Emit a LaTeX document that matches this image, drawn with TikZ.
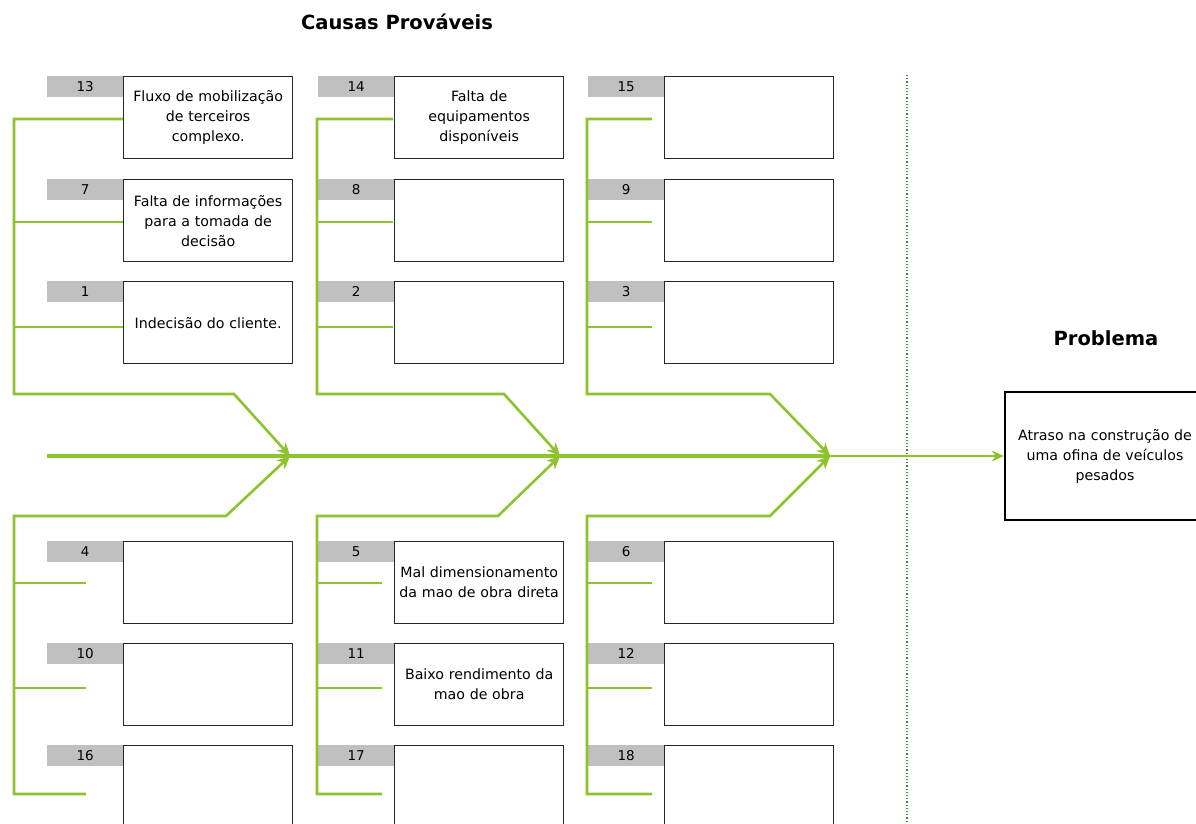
\documentclass[tikz,border=0pt]{standalone}
\usepackage{fontspec}
\setmainfont{DejaVu Sans}
\usetikzlibrary{arrows.meta}
\definecolor{fishgreen}{RGB}{141,196,45}
\definecolor{dotgreen}{RGB}{70,130,50}
\definecolor{labelgray}{RGB}{192,192,192}
\begin{document}
\begin{tikzpicture}[x=1pt,y=-1pt,
  causebox/.style={draw=black!85, line width=1.3pt, minimum width=169pt, minimum height=82pt,
    inner sep=0pt, anchor=north west, align=center, text width=166pt,
    font=\fontsize{14.2}{20}\selectfont},
  numlabel/.style={fill=labelgray, minimum width=76pt, minimum height=21pt, inner sep=0pt,
    anchor=north west, font=\fontsize{13.5}{14}\selectfont},
  bone/.style={draw=fishgreen, line width=2.6pt, line join=miter},
  tipped/.style={-{Stealth[length=13pt,width=12pt,inset=4pt]}},
  spine/.style={draw=fishgreen, line width=4pt},
  title/.style={font=\bfseries\fontsize{19.5}{22}\selectfont}
]
\useasboundingbox (0,0) rectangle (1196,823);

% titles
\node[title] (causas) at (397,22) {Causas Prováveis};
\node[title] (problema) at (1106,338) {Problema};

% cause labels and boxes
\foreach \n/\lx/\ty/\txt in {
  13/47/76/{Fluxo de mobilização\\de terceiros\\complexo.},
  7/47/179/{Falta de informações\\para a tomada de\\decisão},
  1/47/281/{Indecisão do cliente.},
  4/47/541/{},
  10/47/643/{},
  16/47/745/{},
  14/318/76/{Falta de\\equipamentos\\disponíveis},
  8/318/179/{},
  2/318/281/{},
  5/318/541/{Mal dimensionamento\\da mao de obra direta},
  11/318/643/{Baixo rendimento da\\mao de obra},
  17/318/745/{},
  15/588/76/{},
  9/588/179/{},
  3/588/281/{},
  6/588/541/{},
  12/588/643/{},
  18/588/745/{}}{
  \node[numlabel] (l\n) at (\lx,\ty) {\n};
  \node[causebox] (b\n) at (\lx+76,\ty) {\txt};
}

% problem box
\node[draw=black, line width=2.6pt, minimum width=200pt, minimum height=128pt, inner sep=0pt,
  text width=190pt, align=center, font=\fontsize{14.2}{20}\selectfont] (prob) at (1105,456)
  {Atraso na construção de\\uma ofina de veículos\\pesados};

% dotted separator
\coordinate (dtop) at (907,75);
\coordinate (dbot) at (907,823);
\draw[dotgreen, line width=1.1pt, dash pattern=on 1.2pt off 2pt] (dtop) -- (dbot);

% spine
\coordinate (s0) at (47,456);
\coordinate (t1) at (290,456);
\coordinate (t2) at (560,456);
\coordinate (t3) at (830,456);
\draw[spine] (s0) -- (t3);
\draw[fishgreen, line width=2pt, -{Stealth[length=12pt,width=11pt,inset=4pt]}] (t3) -- (prob.west);

% branch end coordinates
\coordinate (e13) at (123,119); \coordinate (e7) at (123,222); \coordinate (e1) at (123,327);
\coordinate (e4) at (86,583);   \coordinate (e10) at (86,688); \coordinate (e16) at (86,794);
\coordinate (e14) at (393,119); \coordinate (e8) at (393,222); \coordinate (e2) at (393,327);
\coordinate (e5) at (382,583);  \coordinate (e11) at (382,688); \coordinate (e17) at (382,794);
\coordinate (e15) at (652,119); \coordinate (e9) at (652,222); \coordinate (e3) at (652,327);
\coordinate (e6) at (652,583);  \coordinate (e12) at (652,688); \coordinate (e18) at (652,794);

% column 1 bones
\draw[bone, tipped] (e13) -- (14,119) -- (14,394) -- (234,394) -- (t1);
\draw[bone] (14,222) -- (e7);
\draw[bone] (14,327) -- (e1);
\draw[bone, tipped] (e16) -- (14,794) -- (14,516) -- (226,516) -- (t1);
\draw[bone] (14,583) -- (e4);
\draw[bone] (14,688) -- (e10);

% column 2 bones
\draw[bone, tipped] (e14) -- (317,119) -- (317,394) -- (504,394) -- (t2);
\draw[bone] (317,222) -- (e8);
\draw[bone] (317,327) -- (e2);
\draw[bone, tipped] (e17) -- (317,794) -- (317,516) -- (498,516) -- (t2);
\draw[bone] (317,583) -- (e5);
\draw[bone] (317,688) -- (e11);

% column 3 bones
\draw[bone, tipped] (e15) -- (587,119) -- (587,394) -- (770,394) -- (t3);
\draw[bone] (587,222) -- (e9);
\draw[bone] (587,327) -- (e3);
\draw[bone, tipped] (e18) -- (587,794) -- (587,516) -- (770,516) -- (t3);
\draw[bone] (587,583) -- (e6);
\draw[bone] (587,688) -- (e12);
\end{tikzpicture}
\end{document}
